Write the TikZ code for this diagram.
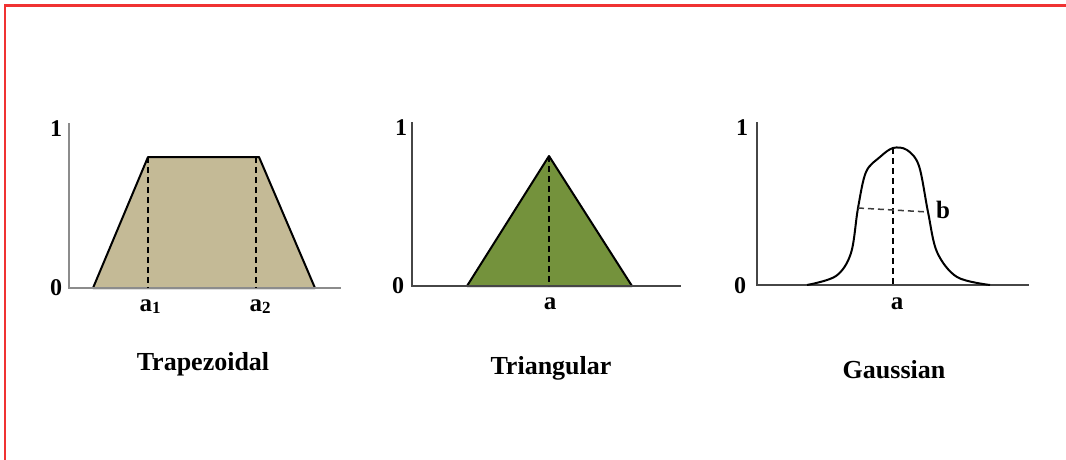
\documentclass[tikz,border=0pt]{standalone}
\usepackage{fontspec}
\setmainfont{Liberation Serif}
\begin{document}
\begin{tikzpicture}[x=1pt,y=-1pt,
  frame/.style={draw={rgb,255:red,240;green,50;blue,50},line width=2.5pt},
  axisA/.style={draw={rgb,255:red,140;green,140;blue,140},line width=2.2pt},
  axisB/.style={draw={rgb,255:red,70;green,70;blue,70},line width=2.2pt},
  shapeline/.style={draw=black,line width=2pt,line join=round},
  guide/.style={draw=black,line width=1.6pt,dash pattern=on 6pt off 4pt},
  guideb/.style={draw={rgb,255:red,60;green,60;blue,60},line width=1.5pt,dash pattern=on 6pt off 4pt},
  ticklab/.style={font=\fontsize{24}{24}\selectfont\bfseries,inner sep=0pt},
  xlab/.style={font=\fontsize{25}{25}\selectfont\bfseries,inner sep=0pt,anchor=base},
  title/.style={font=\fontsize{26}{26}\selectfont\bfseries,inner sep=0pt,anchor=base}]
\useasboundingbox (0,0) rectangle (1066,460);
\fill[white] (0,0) rectangle (1066,460);
% frame
\draw[frame] (1066,5.5) -- (5,5.5) -- (5,460);

% ---------- Trapezoidal ----------
\coordinate (t0) at (69,123);
\coordinate (to) at (69,288);
\coordinate (tx) at (341,288);
\coordinate (tbl) at (93,288);
\coordinate (ttl) at (148,157);
\coordinate (ttr) at (259,157);
\coordinate (tbr) at (315,288);
\coordinate (td1) at (148,288);
\coordinate (td2) at (256,157);
\coordinate (td2b) at (256,288);
\filldraw[shapeline,fill={rgb,255:red,196;green,186;blue,150}] (tbl) -- (ttl) -- (ttr) -- (tbr) -- cycle;
\draw[axisA] (t0) -- (to) -- (tx);
\draw[guide] (ttl) -- (td1);
\draw[guide] (td2) -- (td2b);
\node[ticklab] (t1) at (56,129) {1};
\node[ticklab] (tzero) at (56,288) {0};
\node[xlab] (ta1) at (150,311) {a\raisebox{-2pt}{\fontsize{17}{17}\selectfont\bfseries 1}};
\node[xlab] (ta2) at (260,311) {a\raisebox{-2pt}{\fontsize{17}{17}\selectfont\bfseries 2}};
\node[title] (ttitle) at (203,370) {Trapezoidal};

% ---------- Triangular ----------
\coordinate (r0) at (412,122);
\coordinate (ro) at (412,286);
\coordinate (rx) at (681,286);
\coordinate (rbl) at (467,286);
\coordinate (rap) at (549,156);
\coordinate (rbr) at (632,286);
\coordinate (rd) at (549,286);
\filldraw[shapeline,fill={rgb,255:red,116;green,146;blue,60}] (rbl) -- (rap) -- (rbr) -- cycle;
\draw[axisB] (r0) -- (ro) -- (rx);
\draw[guide] (rap) -- (rd);
\node[ticklab] (r1) at (401,128) {1};
\node[ticklab] (rzero) at (398,286) {0};
\node[xlab] (ra) at (550,309) {a};
\node[title] (rtitle) at (551,374) {Triangular};

% ---------- Gaussian ----------
\coordinate (g0) at (757,122);
\coordinate (go) at (757,285);
\coordinate (gx) at (1029,285);
\coordinate (gp) at (893,148);
\coordinate (gd) at (893,285);
\coordinate (gl) at (858,208);
\coordinate (gr) at (928,212);
\draw[axisB] (g0) -- (go) -- (gx);
\draw[shapeline] plot[smooth,tension=0.55] coordinates
  {(807,285) (836,276) (851,253) (858,208) (866,172) (880,157) (893,148) (907,150)
   (919,166) (928,212) (937,252) (957,277) (990,285)};
\draw[guide] (gp) -- (gd);
\draw[guideb] (gl) -- (gr);
\node[ticklab] (g1) at (742,128) {1};
\node[ticklab] (gzero) at (740,286) {0};
\node[xlab] (ga) at (897,309) {a};
\node[xlab] (gb) at (943,218) {b};
\node[title] (gtitle) at (894,378) {Gaussian};
\end{tikzpicture}
\end{document}
